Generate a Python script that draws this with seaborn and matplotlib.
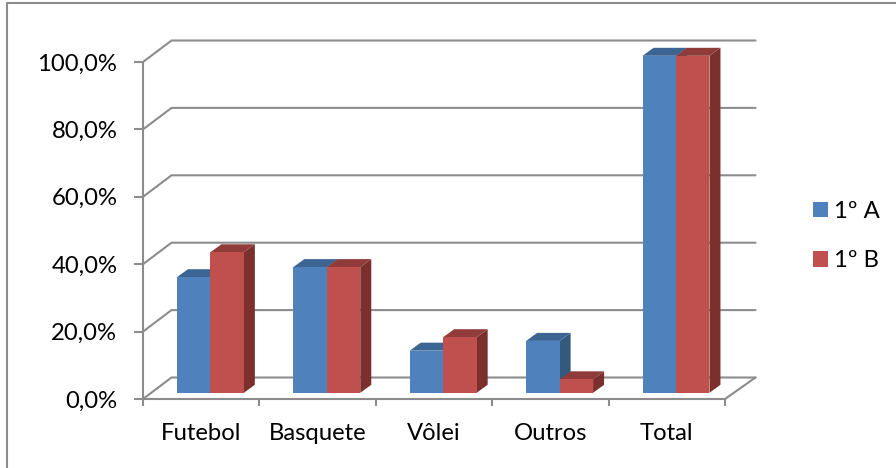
# Grafico de barras "3D" (estilo Excel) com preferencias esportivas por turma

import matplotlib
matplotlib.use("Agg")
import matplotlib.pyplot as plt
import pandas as pd
import seaborn as sns
from matplotlib.lines import Line2D
from matplotlib.patches import Polygon, Patch
from matplotlib.transforms import IdentityTransform

categorias = ["Futebol", "Basquete", "Vôlei", "Outros", "Total"]
turma_a = [34.3, 37.3, 12.5, 15.4, 100.0]
turma_b = [41.7, 37.3, 16.5, 4.0, 100.0]
turmas = ["1º A", "1º B"]
y_ticks = [0, 20, 40, 60, 80, 100]
y_labels = ["0,0%", "20,0%", "40,0%", "60,0%", "80,0%", "100,0%"]

cores = ["#4F81BD", "#C0504D"]
cores_topo = ["#3D6593", "#8F3C3A"]
cores_lado = ["#34597F", "#7B302E"]
cinza = "#8C8C8C"
fonte = ["Lato", "DejaVu Sans"]
tam = 17.2

df = pd.DataFrame({
    "categoria": categorias * 2,
    "valor": turma_a + turma_b,
    "turma": [turmas[0]] * 5 + [turmas[1]] * 5,
})

sns.set_theme(style="white")
plt.rcParams["font.family"] = fonte

W, H = 896, 468
fig = plt.figure(figsize=(W / 100, H / 100), dpi=100)
# eixo = plano frontal do grafico
ax = fig.add_axes([143 / W, 1 - 399 / H, (725 - 143) / W, (399 - 62) / H])

sns.barplot(data=df, x="categoria", y="valor", hue="turma", palette=cores,
            width=0.575, gap=0, dodge=True, saturation=1, legend=False, ax=ax)
ax.set_xlim(-0.5, 4.5)
ax.set_ylim(0, 100)
ax.set_xlabel("")
ax.set_ylabel("")
ax.patch.set_visible(False)
for s in ax.spines.values():
    s.set_visible(False)

# profundidade da parede do fundo e das barras, em pixels
parede_dx, parede_dy = 28.5, 21.5
parede_extra = 2
base_dx, base_dy = 9.2, 6.2
barra_dx, barra_dy = 11, 8
ident = IdentityTransform()


def px(x, y):
    return ax.transData.transform((x, y))


# linhas de grade em perspectiva
for v in y_ticks:
    x0, y0 = px(-0.5, v)
    x1, y1 = px(4.5, v)
    ax.add_line(Line2D([x0, x0 + parede_dx, x1 + parede_dx + parede_extra],
                       [y0, y0 + parede_dy, y0 + parede_dy],
                       color=cinza, lw=1.5, transform=ident, zorder=1, clip_on=False))

# diagonal direita do chao e eixos
x0, y0 = px(-0.5, 0)
x1, y1 = px(4.5, 0)
xt, yt = px(-0.5, 100)
ax.add_line(Line2D([x1, x1 + parede_dx + parede_extra], [y1, y1 + parede_dy],
                   color=cinza, lw=1.5, transform=ident, zorder=1, clip_on=False))
ax.add_line(Line2D([x0, x1], [y0, y0], color=cinza, lw=1.5, transform=ident, zorder=1, clip_on=False))
ax.add_line(Line2D([x0, x0], [y0, yt], color=cinza, lw=1.5, transform=ident, zorder=1, clip_on=False))

# faces das barras: cada turma por cima da anterior
z = 3
for i, cont in enumerate(ax.containers):
    for bar in cont:
        (xa, ya), (xb, yb) = ax.transData.transform(bar.get_bbox().get_points())
        xa, xb = xa + base_dx, xb + base_dx
        ya, yb = ya + base_dy, yb + base_dy
        lado = Polygon([(xb, ya), (xb + barra_dx, ya + barra_dy),
                        (xb + barra_dx, yb + barra_dy), (xb, yb)],
                       fc=cores_lado[i], ec="none", transform=ident, zorder=z, clip_on=False)
        topo = Polygon([(xa, yb), (xa + barra_dx, yb + barra_dy),
                        (xb + barra_dx, yb + barra_dy), (xb, yb)],
                       fc=cores_topo[i], ec="none", transform=ident, zorder=z, clip_on=False)
        ax.add_patch(lado)
        ax.add_patch(topo)
        bar.set_transform(ident)
        bar.set_bounds(xa, ya, xb - xa, yb - ya)
        bar.set_edgecolor("none")
        bar.set_zorder(z + 0.5)
        bar.set_clip_on(False)
    z += 1

ax.set_yticks(y_ticks, y_labels)
ax.set_xticks(range(5), categorias)
ax.set_xticks([-0.5, 0.5, 1.5, 2.5, 3.5, 4.5], minor=True)
ax.tick_params(axis="y", which="major", length=6.5, width=1.5, color=cinza, left=True,
               labelsize=tam, labelcolor="black", pad=12)
ax.tick_params(axis="x", which="major", length=0, labelsize=tam, labelcolor="black", pad=17)
ax.tick_params(axis="x", which="minor", length=5, width=1.5, color=cinza, bottom=True)

handles = [Patch(fc=c, ec="none") for c in cores]
ax.legend(handles, turmas, loc="center left", bbox_to_anchor=(813 / W, 1 - 236 / H),
          bbox_transform=fig.transFigure, frameon=False, fontsize=tam,
          handlelength=0.62, handleheight=0.62, handletextpad=0.25, labelspacing=1.2,
          borderpad=0, borderaxespad=0, labelcolor="black")

# moldura externa: so esquerda e topo aparecem no recorte
fig.add_artist(Line2D([7 / W, 7 / W, 1], [0, 1 - 3 / H, 1 - 3 / H],
                      transform=fig.transFigure, color=cinza, lw=1.5))

fig.savefig("out.png", dpi=100, facecolor="white")
